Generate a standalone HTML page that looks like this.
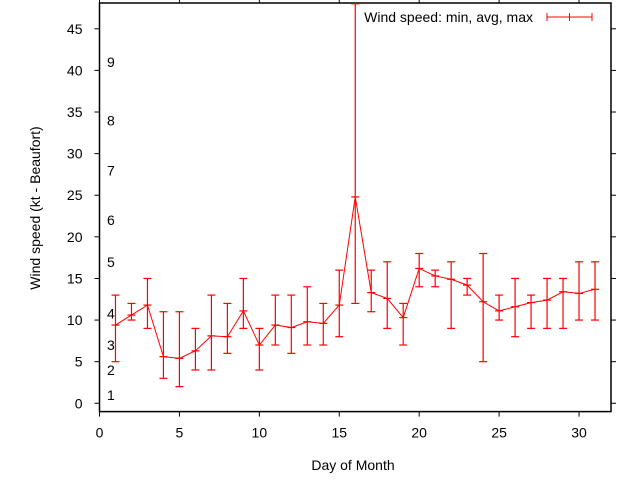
<!DOCTYPE html>
<html><head><meta charset="utf-8"><style>
body{margin:0;background:#fff}
svg{display:block;font-family:"Liberation Sans",sans-serif}
</style></head><body>
<svg id="chart" width="640" height="480" xmlns="http://www.w3.org/2000/svg"></svg>
<script>
const days=[1,2,3,4,5,6,7,8,9,10,11,12,13,14,15,16,17,18,19,20,21,22,23,24,25,26,27,28,29,30,31];
const minVals=[5,10,9,3,2,4,4,6,9,4,7,6,7,7,8,12,11,9,7,14,14,9,13,5,10,8,9,9,9,10,10];
const avgVals=[9.4,10.6,11.8,5.6,5.4,6.3,8.1,8.0,11.1,7.0,9.4,9.1,9.8,9.6,11.8,24.8,13.3,12.6,10.3,16.2,15.3,14.9,14.2,12.2,11.1,11.6,12.1,12.4,13.4,13.2,13.7];
const maxVals=[13,12,15,11,11,9,13,12,15,9,13,13,14,12,16,48,16,17,12,18,16,17,15,18,13,15,13,15,15,17,17];
const xTicks=[0,5,10,15,20,25,30];
const yTicks=[0,5,10,15,20,25,30,35,40,45];
const beaufortLabels=["1","2","3","4","5","6","7","8","9"];
const beaufortY=[1,4,7,10.8,17,22,28,34,41];

const L=99.5,R=611,T=3,B=411.6,X0=0,X1=32,Y0=-1,Y1=48.1;
const sx=v=>L+(v-X0)/(X1-X0)*(R-L);
const sy=v=>B-(v-Y0)/(Y1-Y0)*(B-T);
const svg=document.getElementById('chart');
const NS='http://www.w3.org/2000/svg';
function mk(tag,attrs,parent){const e=document.createElementNS(NS,tag);for(const k in attrs)e.setAttribute(k,attrs[k]);(parent||svg).appendChild(e);return e;}

// frame
const frame=mk('rect',{x:L,y:T,width:R-L,height:B-T,fill:'none',stroke:'#000','stroke-width':1.5});



xTicks.forEach(t=>{
  const x=sx(t);
  const a=mk('line',{x1:x,y1:B,x2:x,y2:B+5,stroke:'#000'});
  
  
  const b=mk('line',{x1:x,y1:T,x2:x,y2:T-5,stroke:'#000'});
  
  
  const tx=mk('text',{x:x,y:B+26,'text-anchor':'middle','font-size':14});
  tx.textContent=t;
  
  
});
yTicks.forEach(t=>{
  const y=sy(t);
  const a=mk('line',{x1:L,y1:y,x2:L-5,y2:y,stroke:'#000'});
  
  
  const b=mk('line',{x1:R,y1:y,x2:R+5,y2:y,stroke:'#000'});
  
  
  const tx=mk('text',{x:L-17,y:y+5,'text-anchor':'end','font-size':14});
  tx.textContent=t;
  
  
});
beaufortLabels.forEach((s,i)=>{
  const tx=mk('text',{x:107,y:sy(beaufortY[i])+5,'font-size':14});
  tx.textContent=s;
  
  
});

const xt=mk('text',{x:353,y:470,'text-anchor':'middle','font-size':14});
xt.textContent='Day of Month';


const yt=mk('text',{x:0,y:0,'text-anchor':'middle','font-size':14,transform:'translate(40,208) rotate(-90)'});
yt.textContent='Wind speed (kt - Beaufort)';



// clip
const defs=mk('defs',{});
const cp=mk('clipPath',{id:'clip'},defs);
mk('rect',{x:L,y:T,width:R-L,height:B-T},cp);
const g=mk('g',{'clip-path':'url(#clip)'});



days.forEach((d,i)=>{
  const x=sx(d),y1=sy(minVals[i]),y2=sy(maxVals[i]),ya=sy(avgVals[i]);
  const v=mk('line',{x1:x,y1:y1,x2:x,y2:y2,stroke:'#f00','stroke-width':1.2},g);
  
  
  [y1,y2].forEach(yy=>{
    const c=mk('line',{x1:x-4,y1:yy,x2:x+4,y2:yy,stroke:'#f00','stroke-width':1.2},g);
    
    
  });
  const m=mk('line',{x1:x-4,y1:ya,x2:x+4,y2:ya,stroke:'#f00','stroke-width':1.2},g);
  
  
});
const pl=mk('polyline',{points:days.map((d,i)=>sx(d)+','+sy(avgVals[i])).join(' '),fill:'none',stroke:'#f00','stroke-width':1},g);



// legend
const lt=mk('text',{x:533,y:22,'text-anchor':'end','font-size':14});
lt.textContent='Wind speed: min, avg, max';


const lg=mk('g',{stroke:'#f00','stroke-width':1});


mk('line',{x1:547,y1:17,x2:592,y2:17},lg);
mk('line',{x1:547,y1:13,x2:547,y2:21},lg);
mk('line',{x1:592,y1:13,x2:592,y2:21},lg);
mk('line',{x1:569.5,y1:13,x2:569.5,y2:21},lg);
</script>
</body></html>
